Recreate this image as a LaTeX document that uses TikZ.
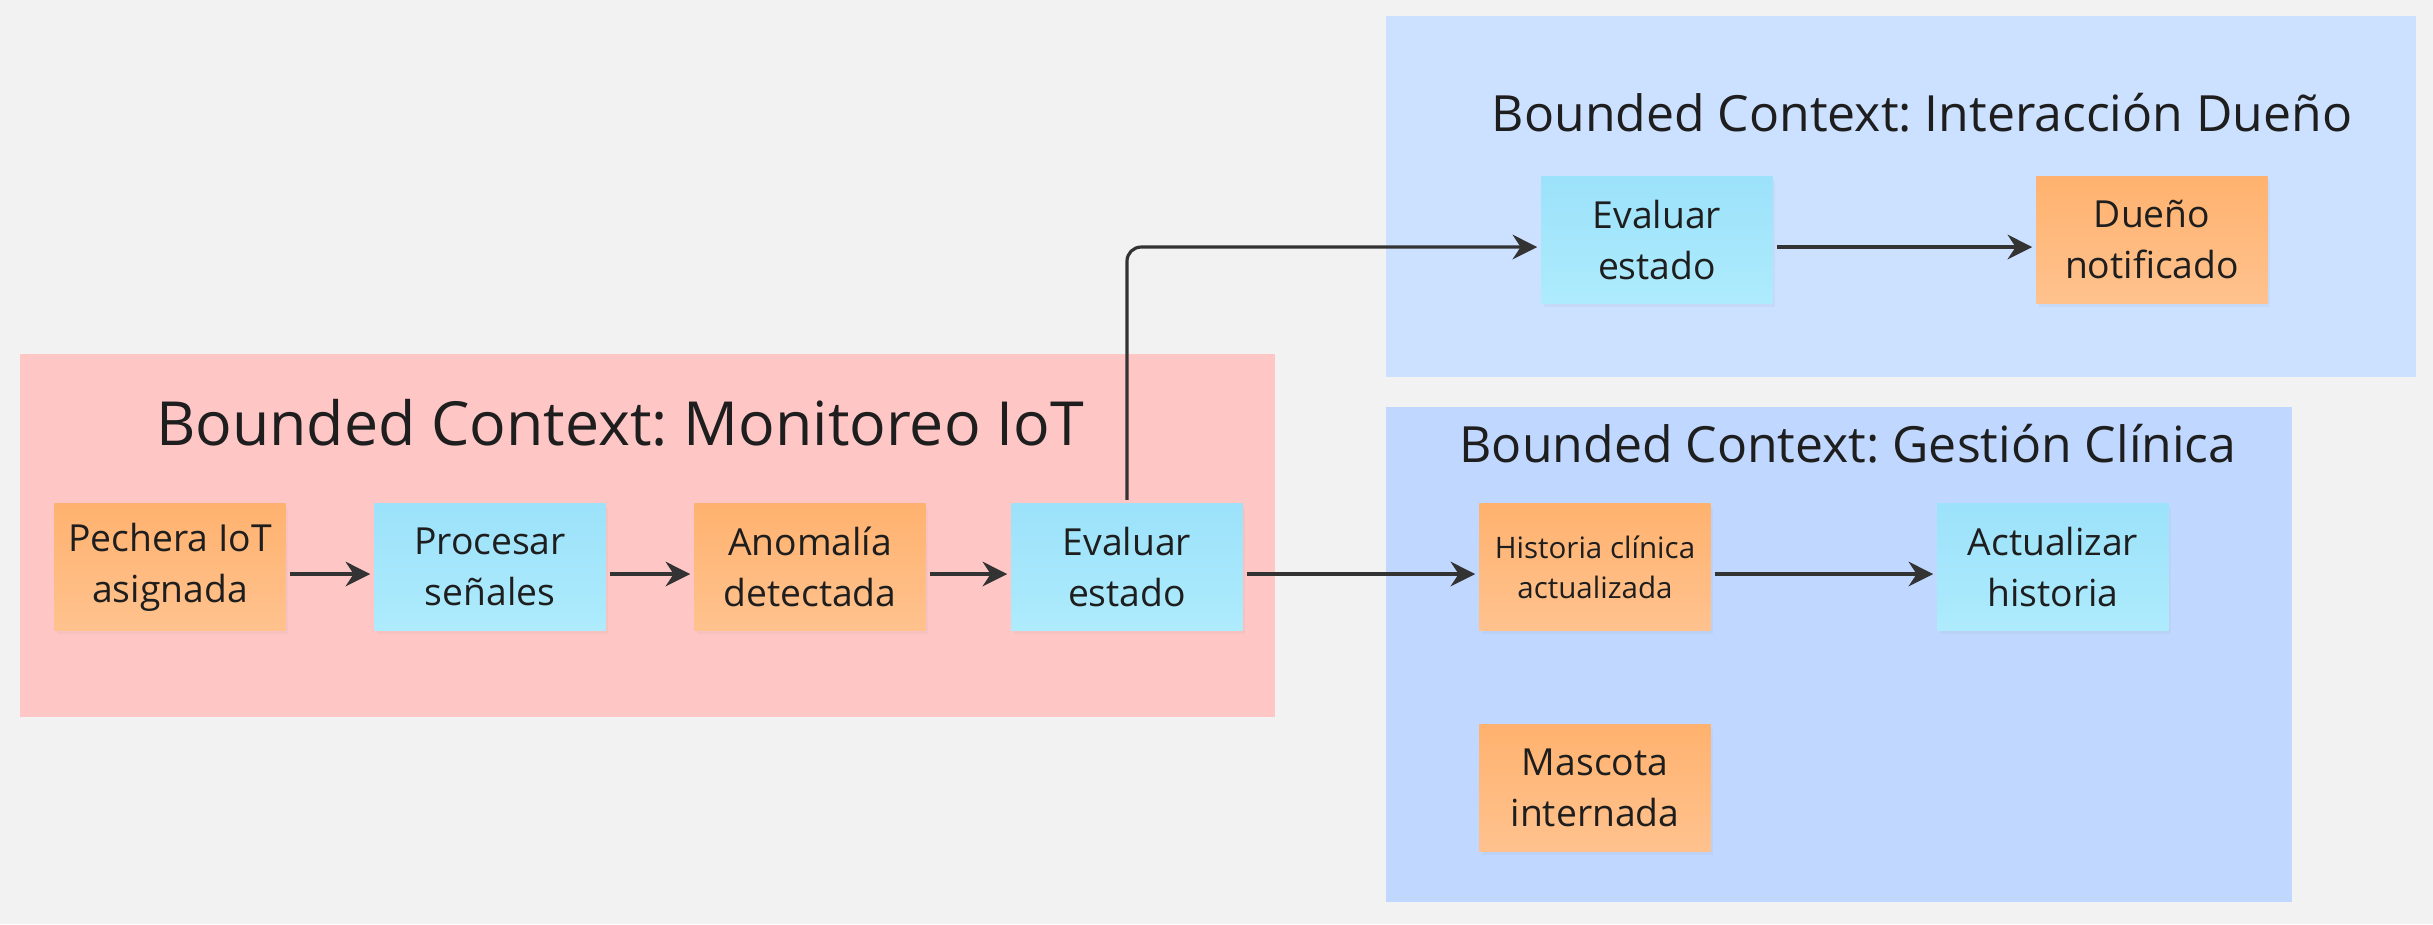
\documentclass[tikz,border=0pt]{standalone}
\usepackage{fontspec}
\setmainfont{Open Sans}
\frenchspacing
\usetikzlibrary{arrows.meta,shadows}
\definecolor{canvas}{HTML}{F2F2F2}
\definecolor{ctxpink}{HTML}{FFC6C6}
\definecolor{ctxblue}{HTML}{CCE0FF}
\definecolor{ctxsky}{HTML}{C0D8FF}
\definecolor{evtop}{HTML}{FFB26F}
\definecolor{evbot}{HTML}{FFC28E}
\definecolor{cmdtop}{HTML}{9CE2FA}
\definecolor{cmdbot}{HTML}{AEEBFD}
\definecolor{ink}{HTML}{1E1E1E}
\definecolor{wire}{HTML}{333333}

\begin{document}
\begin{tikzpicture}[x=0.01cm,y=-0.01cm,
    ctxtitle/.style={anchor=base,text=ink,inner sep=0pt},
    sticky/.style={minimum width=2.31cm,minimum height=1.26cm,inner sep=0pt,align=center,
      text=ink,font=\fontsize{10.6}{14.5}\selectfont,
      drop shadow={shadow xshift=0.6pt,shadow yshift=-1.2pt,opacity=0.07}},
    event/.style={sticky,top color=evtop,bottom color=evbot},
    command/.style={sticky,top color=cmdtop,bottom color=cmdbot},
    flow/.style={-{Stealth[length=7pt,width=7pt]},line width=0.9pt,draw=wire,shorten <=1pt,shorten >=1pt}]
      \fill[canvas] (0,0) rectangle (2433,924);
      \fill[ctxpink] (20,354) rectangle (1275,717);
      \fill[ctxblue] (1386,16) rectangle (2416,377);
      \fill[ctxsky] (1386,407) rectangle (2292,902);
      \node[ctxtitle,font=\fontsize{17.3}{21}\selectfont] (tmon) at (620,445) {Bounded Context: Monitoreo IoT};
      \node[ctxtitle,font=\fontsize{14.2}{17}\selectfont] (tdue) at (1922,131) {Bounded Context: Interacción Dueño};
      \node[ctxtitle,font=\fontsize{14.2}{17}\selectfont] (tcli) at (1848,462) {Bounded Context: Gestión Clínica};
      \node[event] (pechera) at (170,567) {Pechera IoT\\asignada};
      \node[command] (procesar) at (490,567) {Procesar\\señales};
      \node[event] (anomalia) at (810,567) {Anomalía\\detectada};
      \node[command] (evalmon) at (1127,567) {Evaluar\\estado};
      \node[command] (evaldue) at (1657,240) {Evaluar\\estado};
      \node[event] (dueno) at (2152,240) {Dueño\\notificado};
      \node[event,font=\fontsize{8.4}{11.4}\selectfont] (historia) at (1595,567) {Historia clínica\\actualizada};
      \node[command] (actualizar) at (2053,567) {Actualizar\\historia};
      \node[event] (mascota) at (1595,788) {Mascota\\internada};
      \draw[flow] ([yshift=-2pt]pechera.east) -- ([yshift=-2pt]procesar.west);
      \draw[flow] ([yshift=-2pt]procesar.east) -- ([yshift=-2pt]anomalia.west);
      \draw[flow] ([yshift=-2pt]anomalia.east) -- ([yshift=-2pt]evalmon.west);
      \draw[flow,rounded corners=4pt] (evalmon.north) |- ([yshift=-2pt]evaldue.west);
      \draw[flow] ([yshift=-2pt]evaldue.east) -- ([yshift=-2pt]dueno.west);
      \draw[flow] ([yshift=-2pt]evalmon.east) -- ([yshift=-2pt]historia.west);
      \draw[flow] ([yshift=-2pt]historia.east) -- ([yshift=-2pt]actualizar.west);
    \end{tikzpicture}
\end{document}
